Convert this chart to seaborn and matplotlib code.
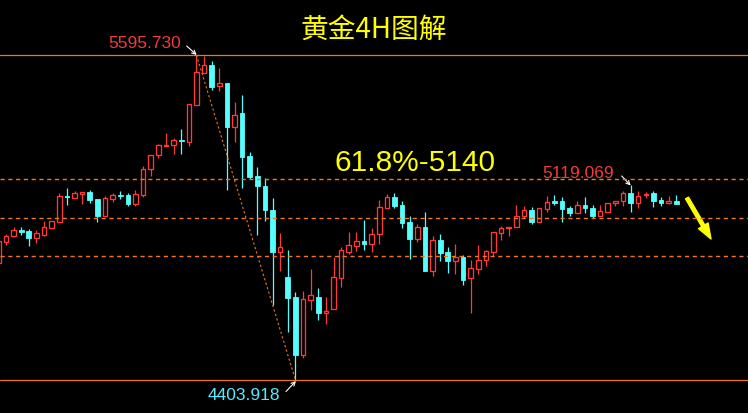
import numpy as np
import matplotlib
matplotlib.use("Agg")
import matplotlib.pyplot as plt
import seaborn as sns

# Gold 4H candles, index 0 is the half-visible one at the left edge
opens = [4833, 4911, 4933, 4954, 4950, 4926, 4936, 4962, 4984, 5079,
         5072, 5087, 5092, 5067, 5006, 5069, 5082, 5082, 5050, 5083,
         5177, 5228, 5262, 5267, 5284, 5278, 5413, 5531, 5559, 5481,
         5493, 5333, 5383, 5225, 5152, 5116, 5028, 4874, 4782, 4708,
         4497, 4698, 4709, 4651, 4665, 4779, 4874, 4896, 4914, 4904,
         4940, 5036, 5074, 5046, 4983, 4922, 4965, 4805, 4916, 4873,
         4841, 4855, 4777, 4812, 4843, 4874, 4944, 4960, 4964, 5004,
         5027, 4984, 5032, 5059, 5059, 5035, 5017, 5046, 5034, 5006,
         5021, 5053, 5059, 5090, 5054, 5081, 5090, 5065, 5054, 5059]
closes = [4914, 4932, 4954, 4947, 4926, 4942, 4964, 4986, 5079, 5074,
          5089, 5092, 5064, 5006, 5071, 5082, 5080, 5050, 5086, 5178,
          5228, 5265, 5265, 5283, 5279, 5415, 5532, 5559, 5479, 5492,
          5333, 5375, 5223, 5148, 5116, 5028, 4874, 4892, 4706, 4497,
          4701, 4715, 4651, 4657, 4781, 4881, 4898, 4913, 4904, 4938,
          5037, 5074, 5043, 4981, 4922, 4964, 4805, 4916, 4870, 4841,
          4854, 4772, 4814, 4843, 4876, 4946, 4960, 4964, 5004, 5027,
          4984, 5034, 5058, 5054, 5032, 5015, 5045, 5036, 5006, 5024,
          5053, 5059, 5090, 5054, 5079, 5085, 5061, 5054, 5059, 5048]
highs = [4914, 4939, 4964, 4965, 4959, 4953, 4987, 4987, 5089, 5108,
         5096, 5093, 5101, 5067, 5078, 5091, 5097, 5090, 5101, 5189,
         5228, 5268, 5309, 5290, 5324, 5415, 5595.730, 5593, 5574, 5548,
         5493, 5423, 5449, 5240, 5185, 5145, 5071, 4943, 4881, 4727,
         4730, 4811, 4742, 4708, 4855, 4892, 4947, 4947, 4991, 4961,
         5064, 5086, 5089, 5060, 5005, 4976, 5020, 4932, 4939, 4892,
         4903, 4862, 4843, 4899, 4880, 4947, 4968, 4964, 5046, 5041,
         5038, 5035, 5079, 5082, 5074, 5043, 5059, 5076, 5045, 5046,
         5053, 5059, 5097, 5119.069, 5096, 5093, 5097, 5075, 5079, 5081]
lows = [4833, 4899, 4927, 4936, 4896, 4907, 4932, 4961, 4983, 5047,
        5071, 5049, 5054, 4984, 5006, 5056, 5068, 5043, 5042, 5076,
        5153, 5219, 5262, 5234, 5234, 5263, 5413, 5528, 5467, 5465,
        5101, 5277, 5109, 5140, 4936, 4988, 4679, 4805, 4581, 4403.918,
        4486, 4662, 4624, 4610, 4665, 4746, 4866, 4878, 4881, 4874,
        4903, 5036, 5036, 4962, 4849, 4911, 4805, 4786, 4841, 4797,
        4794, 4753, 4651, 4794, 4823, 4858, 4918, 4932, 4964, 4997,
        4976, 4984, 5019, 5046, 4984, 5006, 5017, 5015, 4998, 5006,
        5021, 5041, 5041, 5019, 5036, 5070, 5039, 5043, 5048, 5048]

swing_high = 5595.730
swing_low = 4403.918
fib_levels = [0.382, 0.5, 0.618]
hi_idx, lo_idx = 26, 39

RED = "#FF3838"
CYAN = "#55FFFF"
ORANGE = "#F07818"
YELLOW = "#FFFF00"

sns.set_theme(style="dark", rc={"axes.facecolor": "black", "figure.facecolor": "black"})
plt.rcParams["font.family"] = ["Noto Sans CJK SC", "DejaVu Sans"]

fig = plt.figure(figsize=(7.48, 4.13), dpi=100)
ax = fig.add_axes([0, 0, 1, 1])
ax.set_facecolor("black")


# pixel -> data helpers (used only for placing annotations)
def px_x(p):
    return (p - 6) / 7.617 + 1


def px_y(p):
    return swing_high - (p - 55) * 3.6671


x = np.arange(len(opens))
o = np.array(opens)
c = np.array(closes)
up = c >= o

# wicks
ax.vlines(x[up], np.array(lows)[up], np.array(highs)[up], color=RED, lw=0.9, zorder=2)
ax.vlines(x[~up], np.array(lows)[~up], np.array(highs)[~up], color=CYAN, lw=0.9, zorder=2)

# bodies
h = np.maximum(np.abs(c - o), 2.0)
bottom = np.minimum(o, c)
ax.bar(x[up], h[up], bottom=bottom[up], width=0.6, facecolor="black",
       edgecolor=RED, linewidth=0.95, zorder=3)
ax.bar(x[~up], h[~up], bottom=bottom[~up], width=0.62, facecolor=CYAN,
       edgecolor=CYAN, linewidth=0.6, zorder=3)

# swing high / low lines and fib retracements
ax.axhline(swing_high, color=ORANGE, lw=0.9, zorder=4)
ax.axhline(swing_low, color=ORANGE, lw=0.9, zorder=4)
for r in fib_levels:
    ax.axhline(swing_low + r * (swing_high - swing_low), color=ORANGE,
               lw=1.0, dashes=(3, 2.6), zorder=4)

sns.lineplot(x=[hi_idx, lo_idx], y=[swing_high, swing_low], ax=ax, color=ORANGE,
             lw=0.8, dashes=False, linestyle=(0, (2, 2.2)), zorder=4)

ax.set_xlim(px_x(0), px_x(748))
ax.set_ylim(px_y(413), px_y(0))
ax.set_axis_off()

# texts
ax.text(px_x(374), px_y(30), "黄金4H图解", color=YELLOW, fontsize=20,
        ha="center", va="center", family=["Noto Sans CJK SC", "DejaVu Sans"], zorder=6)
ax.text(px_x(415), px_y(163), "61.8%-5140", color=YELLOW, fontsize=21.5,
        ha="center", va="center", family=["Liberation Sans", "DejaVu Sans"], zorder=6)
num_font = ["Liberation Sans", "DejaVu Sans"]
ax.text(px_x(145), px_y(44), f"{swing_high:.3f}", color="#F03C3C", fontsize=12.5,
        ha="center", va="center", family=num_font, zorder=6)
ax.text(px_x(578), px_y(173), "5119.069", color="#F03C3C", fontsize=12.5,
        ha="center", va="center", family=num_font, zorder=6)
ax.text(px_x(243.5), px_y(395), f"{swing_low:.3f}", color="#5CE8FF", fontsize=12.5,
        ha="center", va="center", family=num_font, zorder=6)

arrow = dict(arrowstyle="->", color="white", lw=0.8, shrinkA=0, shrinkB=0,
             mutation_scale=7)
ax.annotate("", xy=(px_x(196.7), px_y(55)), xytext=(px_x(186.7), px_y(46)), arrowprops=arrow)
ax.annotate("", xy=(px_x(630.7), px_y(185.5)), xytext=(px_x(621.7), px_y(176)), arrowprops=arrow)
ax.annotate("", xy=(px_x(296), px_y(381)), xytext=(px_x(286), px_y(391.5)), arrowprops=arrow)

# yellow down arrow on the right
ax.annotate("", xy=(px_x(711), px_y(239)), xytext=(px_x(687), px_y(198)),
            arrowprops=dict(arrowstyle="simple,head_length=1.1,head_width=0.8,tail_width=0.25",
                            color=YELLOW, shrinkA=0, shrinkB=0, mutation_scale=10))

plt.savefig("out.png", dpi=100, facecolor="black")
